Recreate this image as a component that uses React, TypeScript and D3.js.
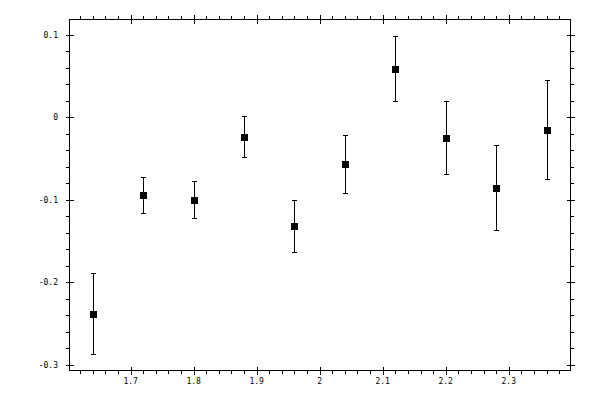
import React from "react";
import * as d3 from "d3";

const xValues = [1.64, 1.72, 1.8, 1.88, 1.96, 2.04, 2.12, 2.2, 2.28, 2.36];
const yValues = [-0.238, -0.094, -0.1, -0.0235, -0.1316, -0.0566, 0.0585, -0.0251, -0.0856, -0.0154];
const yErrors = [0.0487, 0.022, 0.0224, 0.0254, 0.0315, 0.035, 0.0394, 0.0442, 0.0515, 0.06];
const xMajorTicks = [1.7, 1.8, 1.9, 2.0, 2.1, 2.2, 2.3];
const xTickLabels = ["1.7", "1.8", "1.9", "2", "2.1", "2.2", "2.3"];
const yMajorTicks = [0.1, 0, -0.1, -0.2, -0.3];
const yTickLabels = ["0.1", "0", "-0.1", "-0.2", "-0.3"];
const xDomain = [1.603, 2.398];
const yDomain = [-0.3069, 0.1182];

const W = 600;
const H = 400;
const L = 69.5;
const R = 570.5;
const T = 19.5;
const B = 370.5;

export default function App() {
  const x = d3.scaleLinear().domain(xDomain).range([L, R]);
  const y = d3.scaleLinear().domain(yDomain).range([B, T]);

  const xMinor = d3
    .range(Math.ceil(xDomain[0] / 0.02), Math.floor(xDomain[1] / 0.02) + 1)
    .map((i) => i * 0.02)
    .filter((v) => !xMajorTicks.some((m) => Math.abs(m - v) < 1e-6));
  const yMinor = d3
    .range(Math.ceil(yDomain[0] / 0.02), Math.floor(yDomain[1] / 0.02) + 1)
    .map((i) => i * 0.02)
    .filter((v) => !yMajorTicks.some((m) => Math.abs(m - v) < 1e-6));

  const px = (v: number) => Math.round(v) + 0.5;
  const stroke = "#000";
  const font = "'DejaVu Sans Mono', monospace";

  return (
    <svg
      width={W}
      height={H}
      style={{ position: "absolute", left: 0, top: 0, background: "#fff" }}
    >
      <rect x={0} y={0} width={W} height={H} fill="#fff" />
      <g stroke={stroke} strokeWidth={1} shapeRendering="crispEdges" fill="none">
        <rect x={L} y={T} width={R - L} height={B - T} />
        {xMinor.map((v, i) => (
          <g key={"xm" + i}>
            <line x1={px(x(v))} x2={px(x(v))} y1={B} y2={B + 3.5} />
            <line x1={px(x(v))} x2={px(x(v))} y1={T} y2={T - 3.5} />
          </g>
        ))}
        {xMajorTicks.map((v, i) => (
          <g key={"xM" + i}>
            <line x1={px(x(v))} x2={px(x(v))} y1={B - 4} y2={B + 4} />
            <line x1={px(x(v))} x2={px(x(v))} y1={T - 4.5} y2={T + 4.5} />
          </g>
        ))}
        {yMinor.map((v, i) => (
          <g key={"ym" + i}>
            <line x1={L} x2={L - 3.5} y1={px(y(v))} y2={px(y(v))} />
            <line x1={R} x2={R + 3.5} y1={px(y(v))} y2={px(y(v))} />
          </g>
        ))}
        {yMajorTicks.map((v, i) => (
          <g key={"yM" + i}>
            <line x1={L - 4} x2={L + 4} y1={px(y(v))} y2={px(y(v))} />
            <line x1={R - 4} x2={R + 4} y1={px(y(v))} y2={px(y(v))} />
          </g>
        ))}
      </g>
      <g fontFamily={font} fontSize={8} fill="#000">
        {xMajorTicks.map((v, i) => (
          <text key={"xl" + i} x={x(v)} y={384} textAnchor="middle">
            {xTickLabels[i]}
          </text>
        ))}
        {yMajorTicks.map((v, i) => (
          <text key={"yl" + i} x={58} y={y(v) + 3} textAnchor="end">
            {yTickLabels[i]}
          </text>
        ))}
      </g>
      <g stroke={stroke} strokeWidth={1} shapeRendering="crispEdges">
        {xValues.map((xv, i) => {
          const cx = px(x(xv));
          const yTop = Math.round(y(yValues[i] + yErrors[i])) + 0.5;
          const yBot = Math.round(y(yValues[i] - yErrors[i])) + 0.5;
          return (
            <g key={"e" + i}>
              <line x1={cx} x2={cx} y1={yTop} y2={yBot} />
              <line x1={cx - 2.5} x2={cx + 2.5} y1={yTop} y2={yTop} />
              <line x1={cx - 2.5} x2={cx + 2.5} y1={yBot} y2={yBot} />
            </g>
          );
        })}
      </g>
      <g fill="#000" shapeRendering="crispEdges">
        {xValues.map((xv, i) => (
          <rect
            key={"p" + i}
            x={Math.round(x(xv)) - 3}
            y={Math.round(y(yValues[i])) - 3}
            width={7}
            height={7}
          />
        ))}
      </g>
    </svg>
  );
}
